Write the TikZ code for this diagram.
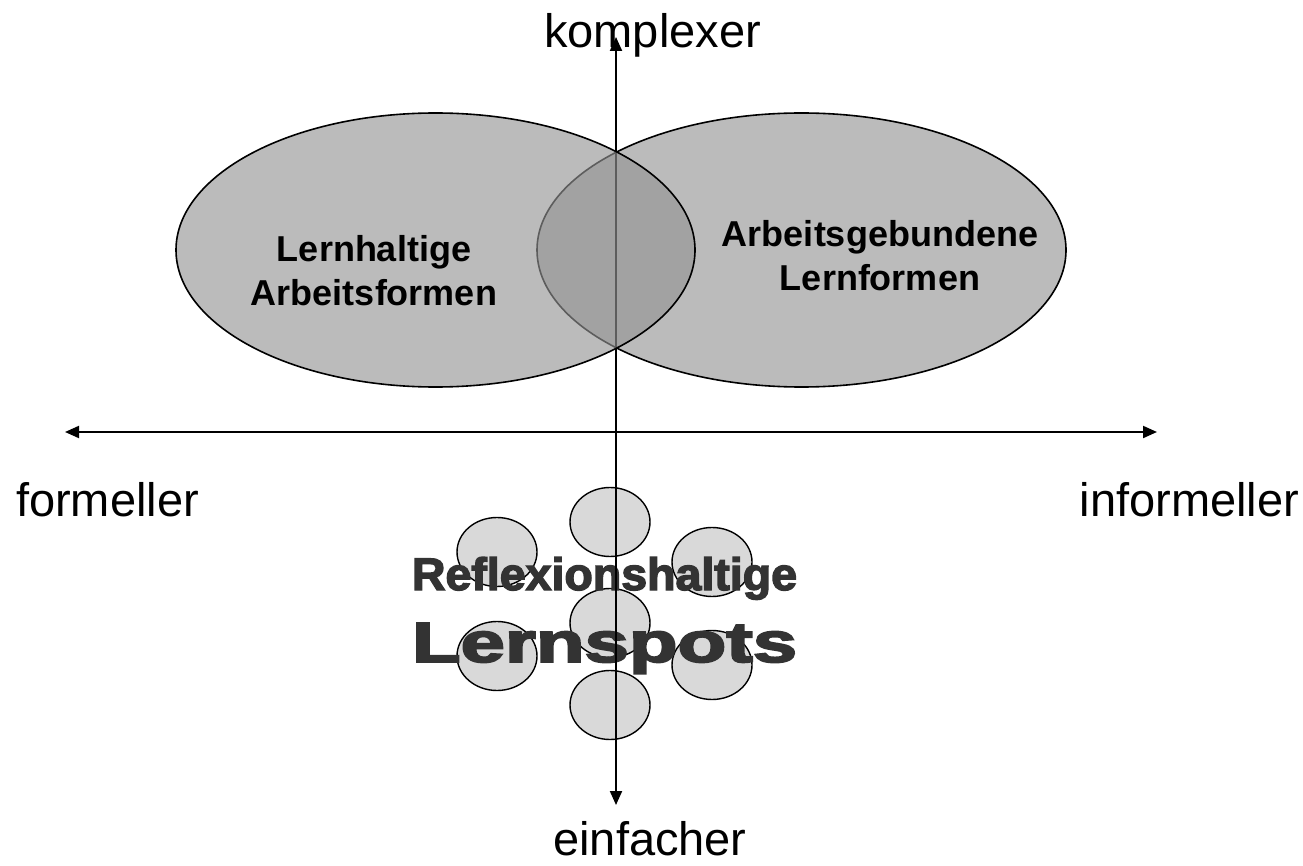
\documentclass[tikz,border=0pt]{standalone}
\usepackage{fontspec}
\setmainfont{Liberation Sans}
\newfontfamily\wordartfont{Liberation Sans}[BoldFeatures={FakeBold=3}]
\usetikzlibrary{arrows.meta,shapes.geometric}

\definecolor{fieldgray}{RGB}{187,187,187}
\definecolor{lensgray}{RGB}{148,148,148}
\definecolor{spotgray}{RGB}{217,217,217}
\definecolor{wordgray}{RGB}{51,51,51}

\begin{document}
\begin{tikzpicture}[x=1pt,y=-1pt,
		field/.style={ellipse,draw,line width=1.6pt,inner sep=0pt,minimum width=#1,minimum height=274pt},
		spot/.style={ellipse,draw,line width=1.4pt,fill=spotgray,inner sep=0pt,minimum width=80pt,minimum height=69pt},
		pole/.style={font=\fontsize{47}{56}\selectfont,inner sep=0pt},
		inlabel/.style={font=\bfseries\fontsize{36}{44}\selectfont,align=center,inner sep=0pt},
		wordart/.style={text=wordgray,inner sep=0pt,anchor=base}]
		
		\useasboundingbox (0,0) rectangle (1303,866);
		
		% Right field
		\node[field=529pt,fill=fieldgray] (arbeitsgeb) at (801.5,250) {};
		
		% Draw spots
		\node[spot] (spottop) at (610,522) {};
		\node[spot] (spotlt) at (497,552) {};
		\node[spot] (spotrt) at (712,562) {};
		\node[spot] (spotmid) at (610,623) {};
		\node[spot] (spotlb) at (497,656) {};
		\node[spot] (spotrb) at (712,665) {};
		\node[spot] (spotbot) at (610,705) {};
		
		% Word art
		\node[wordart] (reflex) at (604.5,590) {\resizebox{385pt}{33pt}{\wordartfont\bfseries Reflexionshaltige}};
		\node[wordart] (spots) at (604.5,662) {\resizebox{385pt}{39pt}{\wordartfont\bfseries Lernspots}};
		
		% Draw axes
		\coordinate (west) at (65,432);
		\coordinate (east) at (1157,432);
		\coordinate (north) at (616,37);
		\coordinate (south) at (616,805);
		\draw [line width=2pt,{Triangle[length=14pt,width=12pt]}-{Triangle[length=14pt,width=12pt]}] (west) -- (east);
		\draw [line width=2pt,{Triangle[length=14pt,width=12pt]}-{Triangle[length=14pt,width=12pt]}] (south) -- (north);
		
		% Left field
		\node[field=519pt,fill=lensgray,fill opacity=0.632] (lernhalt) at (435.5,250) {};
		
		% Labels
		\node[inlabel] (lernhaltlabel) at (374,271) {Lernhaltige\\Arbeitsformen};
		\node[inlabel] (arbeitsgeblabel) at (880,256) {Arbeitsgebundene\\Lernformen};
		
		\node[pole,anchor=base] (komplexer) at (652.5,48) {komplexer};
		\node[pole,anchor=base] (einfacher) at (650,855) {einfacher};
		\node[pole,anchor=base] (formeller) at (107.5,516) {formeller};
		\node[pole,anchor=base] (informeller) at (1189.5,516) {informeller};
		
		\end{tikzpicture}
\end{document}
